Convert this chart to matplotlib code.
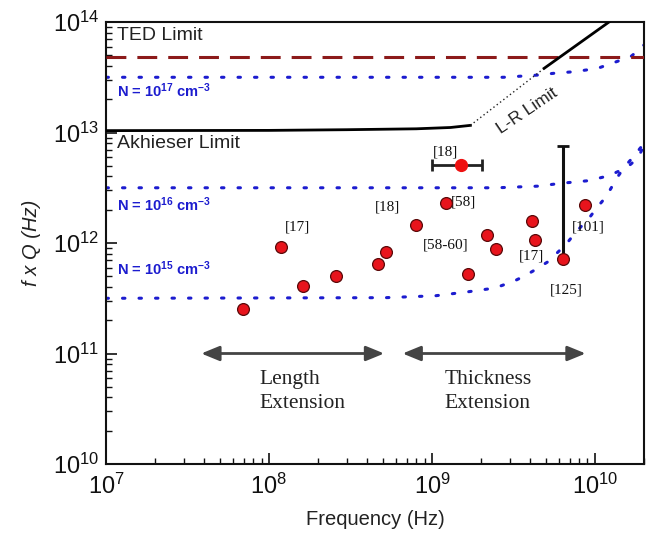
import matplotlib
matplotlib.use("Agg")
import matplotlib.pyplot as plt
import numpy as np

plt.rcParams['font.family'] = ['Liberation Sans', 'DejaVu Sans']
plt.rcParams['mathtext.fontset'] = 'custom'
plt.rcParams['mathtext.rm'] = 'Liberation Sans'
plt.rcParams['mathtext.it'] = 'Liberation Sans:italic'
plt.rcParams['mathtext.bf'] = 'Liberation Sans:bold'

# ---------------- data ----------------
# measured points (frequency Hz, f*Q Hz)
pts_f = [6.95e7, 1.18e8, 1.61e8, 2.59e8, 4.66e8, 5.25e8, 7.97e8, 1.22e9,
         2.19e9, 2.48e9, 1.67e9, 4.10e9, 4.27e9, 8.73e9]
pts_fq = [2.51e11, 9.2e11, 4.08e11, 5.06e11, 6.42e11, 8.24e11, 1.45e12, 2.29e12,
          1.19e12, 8.83e11, 5.27e11, 1.59e12, 1.06e12, 2.19e12]

# point with horizontal error bar [18]
eb_h_f = 1.50e9
eb_h_fq = 5.05e12
eb_h_lo = 9.96e8
eb_h_hi = 2.02e9

# point with vertical error bar [125]
eb_v_f = 6.34e9
eb_v_fq = 7.12e11
eb_v_hi = 7.6e12

# limits
ted_fq = 4.8e13
akh_f = [1e7, 1e8, 3e8, 8e8, 1.3e9, 1.72e9]
akh_fq = [1.04e13, 1.045e13, 1.06e13, 1.08e13, 1.11e13, 1.16e13]
lr_dot_f = [1.72e9, 4.88e9]
lr_dot_fq = [1.16e13, 3.81e13]
lr_f = [4.88e9, 1.22e10]
lr_fq = [3.81e13, 1.0e14]

n17_f = [1e7, 2.75e9, 4.48e9, 5.75e9, 7.5e9, 1.04e10, 1.45e10, 1.67e10, 1.86e10, 2.0e10]
n17_fq = [3.16e13, 3.16e13, 3.31e13, 3.45e13, 3.55e13, 3.81e13, 4.53e13, 4.9e13, 5.6e13, 6.2e13]
n16_f = [1e7, 2.5e9, 4.48e9, 6.19e9, 9.06e9, 1.20e10, 1.38e10, 1.59e10, 1.83e10, 2.0e10]
n16_fq = [3.16e12, 3.16e12, 3.27e12, 3.47e12, 3.66e12, 4.04e12, 4.42e12, 4.9e12, 5.85e12, 7.6e12]
n15_f = [1e7, 5.18e8, 1.05e9, 1.67e9, 2.22e9, 2.67e9, 3.23e9, 3.72e9, 4.28e9, 5.16e9,
         6.67e9, 7.52e9, 9.29e9, 1.04e10, 1.17e10, 1.38e10, 1.52e10, 1.7e10, 1.95e10]
n15_fq = [3.16e11, 3.2e11, 3.33e11, 3.62e11, 3.84e11, 4.11e11, 4.56e11, 5.06e11, 5.70e11,
          6.78e11, 9.79e11, 1.22e12, 1.71e12, 2.13e12, 2.62e12, 3.98e12, 4.9e12, 5.9e12, 7.6e12]

# citation labels
cite_text = ['[18]', '[17]', '[18]', '[58]', '[58-60]', '[17]', '[101]', '[125]']
cite_f = [1.21e9, 1.49e8, 5.35e8, 1.57e9, 1.21e9, 4.09e9, 9.1e9, 6.71e9]
cite_fq = [6.7e12, 1.40e12, 2.13e12, 2.33e12, 9.6e11, 7.55e11, 1.40e12, 3.76e11]

# regime arrows
arrow_y = 1e11
len_arrow = [3.84e7, 5.09e8]
thk_arrow = [6.6e8, 8.77e9]

# ---------------- figure ----------------
fig = plt.figure(figsize=(6.49, 5.48), dpi=100)
ax = fig.add_axes([106/649, 1-464/548, (644-106)/649, (464-22)/548])
ax.set_xscale('log')
ax.set_yscale('log')
ax.set_xlim(1e7, 2e10)
ax.set_ylim(1e10, 1e14)

blue = '#1c1ccf'
dot_style = dict(color=blue, lw=2.2, linestyle=(0, (0.8, 4.6)), dash_capstyle='round')
ax.plot(n17_f, n17_fq, **dot_style, zorder=2)
ax.plot(n16_f, n16_fq, **dot_style, zorder=2)
ax.plot(n15_f, n15_fq, **dot_style, zorder=2)

ax.axhline(ted_fq, color='#8c1a1a', lw=2.2, linestyle=(0, (6.5, 3.6)), zorder=3)
ax.plot(akh_f, akh_fq, color='black', lw=2.0, zorder=3)
ax.plot(lr_dot_f, lr_dot_fq, color='#222222', lw=1.0, linestyle=(0, (1, 2)), zorder=3)
ax.plot(lr_f, lr_fq, color='black', lw=2.0, zorder=3)

# error bars
ax.errorbar([eb_h_f], [eb_h_fq], xerr=[[eb_h_f - eb_h_lo], [eb_h_hi - eb_h_f]],
            fmt='none', ecolor='#222222', elinewidth=2, capsize=4, capthick=2, zorder=4)
ax.errorbar([eb_v_f], [eb_v_fq], yerr=[[0], [eb_v_hi - eb_v_fq]],
            fmt='none', ecolor='#111111', elinewidth=2.2, capsize=4, capthick=2, zorder=4)
ax.plot([eb_h_f], [eb_h_fq], 'o', color='#ee1111', ms=8.5, mec='#ee1111', zorder=5)
ax.plot(pts_f, pts_fq, 'o', color='#e8141c', ms=8.5, mec='#5a0808', mew=0.9, zorder=5,
        linestyle='none')
ax.plot([eb_v_f], [eb_v_fq], 'o', color='#e8141c', ms=8.5, mec='#5a0808', mew=0.9, zorder=5)

# text labels
tcol = '#222222'
ax.text(1.17e7, 10**13.882, 'TED Limit', fontsize=14, color=tcol, va='center', ha='left')
ax.text(1.16e7, 10**12.902, 'Akhieser Limit', fontsize=14, color=tcol, va='center', ha='left')
ax.text(3.84e9, 1.57e13, 'L-R Limit', fontsize=12.5, color=tcol, va='center', ha='center',
        rotation=34)
for lab, y in [('17', 10**13.378), ('16', 10**12.344), ('15', 10**11.771)]:
    ax.text(1.16e7, y, r'N = 10$^{\mathbf{%s}}$ cm$^{\mathbf{-3}}$' % lab, fontsize=10.5,
            fontweight='bold', color=blue, va='center', ha='left')

for t, f, q in zip(cite_text, cite_f, cite_fq):
    ax.text(f, q, t, fontsize=11, family='Liberation Serif', color='#111111',
            ha='center', va='center')

acol = '#444444'
for xs in (len_arrow, thk_arrow):
    ax.annotate('', xy=(xs[1], arrow_y), xytext=(xs[0], arrow_y),
                arrowprops=dict(arrowstyle='<|-|>,head_length=1.1,head_width=0.45',
                                color=acol, lw=2, shrinkA=0, shrinkB=0))
serif_kw = dict(fontsize=15.5, family='Liberation Serif', color='#222222',
                ha='left', va='center')
ax.text(8.73e7, 10**10.767, 'Length', **serif_kw)
ax.text(8.73e7, 10**10.549, 'Extension', **serif_kw)
ax.text(1.19e9, 10**10.767, 'Thickness', **serif_kw)
ax.text(1.19e9, 10**10.549, 'Extension', **serif_kw)

# axes styling
for s in ax.spines.values():
    s.set_linewidth(1.5)
    s.set_color('#111111')
ax.tick_params(which='both', direction='in', top=False, right=False, colors='#111111')
ax.tick_params(which='major', length=8, width=1.2, labelsize=17)
ax.tick_params(axis='x', which='major', pad=7)
ax.tick_params(axis='y', which='major', pad=5)
ax.tick_params(which='minor', length=4, width=1.0)
ax.xaxis.set_minor_locator(matplotlib.ticker.LogLocator(base=10, subs=np.arange(2, 10)))
ax.yaxis.set_minor_locator(matplotlib.ticker.LogLocator(base=10, subs=np.arange(2, 10)))
ax.xaxis.set_minor_formatter(matplotlib.ticker.NullFormatter())
ax.yaxis.set_minor_formatter(matplotlib.ticker.NullFormatter())

ax.set_xlabel('Frequency (Hz)', fontsize=14.5, color='#222222', labelpad=8)
ax.set_ylabel('f x Q (Hz)', fontsize=14.5, style='italic', color='#222222', labelpad=8)

fig.savefig('out.png', dpi=100)
